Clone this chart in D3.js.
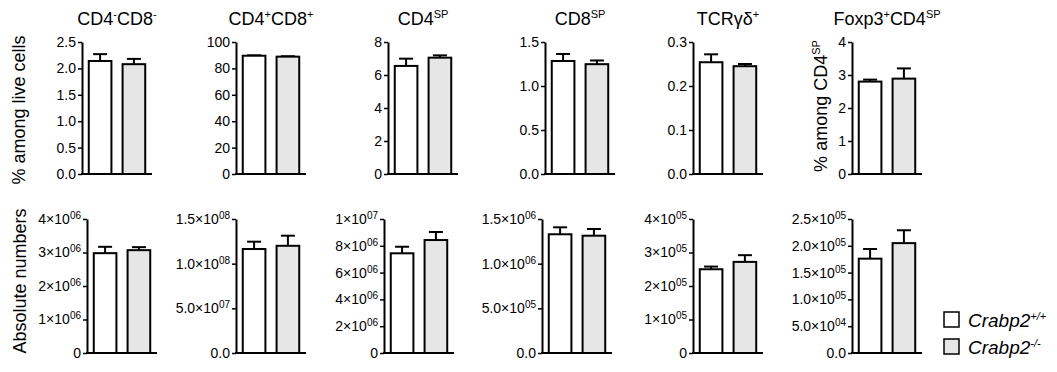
<!DOCTYPE html>
<html>
<head>
<meta charset="utf-8">
<script src="https://cdn.jsdelivr.net/npm/d3@7"></script>
<style>
  body { margin: 0; background: #fff; }
  svg { font-family: "Liberation Sans", Arial, sans-serif; }
</style>
</head>
<body>
<script>
// groups (genotypes)
var groups = ['Crabp2+/+', 'Crabp2-/-'];
var groupName = ['Crabp2', 'Crabp2'];
var groupSup = ['+/+', '-/-'];

// panel titles as [text, isSuperscript] pieces
var titles = [
  [['CD4', 0], ['-', 1], ['CD8', 0], ['-', 1]],
  [['CD4', 0], ['+', 1], ['CD8', 0], ['+', 1]],
  [['CD4', 0], ['SP', 1]],
  [['CD8', 0], ['SP', 1]],
  [['TCR\u03b3\u03b4', 0], ['+', 1]],
  [['Foxp3', 0], ['+', 1], ['CD4', 0], ['SP', 1]]
];

// top row: % among live cells (last panel: % among CD4SP)
var pctMeans = [[2.14, 2.08], [89.6, 88.9], [6.55, 7.05], [1.284, 1.248], [0.254, 0.245], [2.80, 2.89]];
var pctErrs  = [[0.13, 0.10], [0.3, 0.3], [0.44, 0.14], [0.08, 0.042], [0.018, 0.005], [0.06, 0.31]];
var pctMax   = [2.5, 100, 8, 1.5, 0.3, 4];
var pctStep  = [0.5, 20, 2, 0.5, 0.1, 1];

// bottom row: absolute numbers
var absMeans = [[2.98e6, 3.07e6], [1.164e8, 1.20e8], [7.44e6, 8.43e6], [1.329e6, 1.313e6], [2.50e5, 2.72e5], [1.76e5, 2.05e5]];
var absErrs  = [[0.19e6, 0.09e6], [0.082e8, 0.113e8], [0.49e6, 0.60e6], [0.078e6, 0.075e6], [0.08e5, 0.20e5], [0.18e5, 0.24e5]];
var absMax   = [4e6, 1.5e8, 1e7, 1.5e6, 4e5, 2.5e5];
var absStep  = [1e6, 5e7, 2e6, 5e5, 1e5, 5e4];

var W = 1057, H = 372;
var svg = d3.select('body').append('svg')
  .attr('width', W)
  .attr('height', H);

var fills = ['#ffffff', '#e6e6e6'];

// axis x positions of each panel
var topAxisX = [82, 236, 388, 545, 693, 852];
var botAxisX = [87, 236, 384, 542, 693, 852];
var plotW = 70;

function richText(textSel, parts, supSize, rise) {
  textSel.text(null);
  var up = false;
  parts.forEach(function(p) {
    var t = textSel.append('tspan').text(p[0]);
    if (p[1]) {
      t.attr('font-size', supSize);
      if (!up) { t.attr('dy', -rise); up = true; }
    } else if (up) {
      t.attr('dy', rise); up = false;
    }
  });
}

function pctLabel(step) {
  var f = d3.format(step < 1 ? '.1f' : 'd');
  return function(v) { return [[f(v), 0]]; };
}

function mantissa(v) {
  var ex = Math.floor(Math.log10(v) + 1e-9);
  return [v / Math.pow(10, ex), ex];
}

function sciLabel(ticks) {
  // one decimal when any mantissa is not a whole number
  var dec = ticks.some(function(v) {
    if (v === 0) return false;
    var m = mantissa(v)[0];
    return Math.abs(m - Math.round(m)) > 1e-6;
  }) ? 1 : 0;
  return function(v) {
    if (v === 0) return [[dec ? '0.0' : '0', 0]];
    var me = mantissa(v);
    var s = dec ? me[0].toFixed(1) : String(Math.round(me[0]));
    return [[s + '\u00d710', 0], [(me[1] < 10 ? '0' : '') + me[1], 1]];
  };
}

function drawPanel(x0, yTop, yBot, means, errs, max, step, sci) {
  var y = d3.scaleLinear().domain([0, max]).range([yBot, yTop]);
  var xb = d3.scaleBand().domain(groups)
    .range([x0, x0 + plotW])
    .paddingInner(0.33)
    .paddingOuter(0.2);

  var ticks = d3.range(0, max + step / 2, step);
  var labeler = sci ? sciLabel(ticks) : pctLabel(step);
  var g = svg.append('g');

  var axis = d3.axisLeft(y)
    .tickValues(ticks)
    .tickSize(4)
    .tickSizeOuter(0)
    .tickPadding(2)
    .tickFormat(function() { return ''; });

  var ax = g.append('g')
    .attr('transform', 'translate(' + x0 + ',0)')
    .call(axis);
  ax.select('.domain').attr('stroke-width', 2);
  ax.selectAll('.tick line').attr('stroke-width', 1.5);
  ax.selectAll('.tick text')
    .attr('font-size', 14)
    .attr('fill', '#000')
    .attr('font-family', null)
    .each(function(d) {
      richText(d3.select(this), labeler(d), 10, 5);
    });

  // baseline
  g.append('line')
    .attr('x1', x0 - 1).attr('x2', x0 + plotW)
    .attr('y1', y(0)).attr('y2', y(0))
    .attr('stroke', '#000').attr('stroke-width', 2);

  // error bars (upper only)
  groups.forEach(function(k, i) {
    var cx = xb(k) + xb.bandwidth() / 2;
    var yt = y(means[i] + errs[i]);
    g.append('line')
      .attr('x1', cx).attr('x2', cx)
      .attr('y1', y(means[i])).attr('y2', yt)
      .attr('stroke', '#000').attr('stroke-width', 2);
    g.append('line')
      .attr('x1', cx - 7).attr('x2', cx + 7)
      .attr('y1', yt).attr('y2', yt)
      .attr('stroke', '#000').attr('stroke-width', 2);
  });

  g.selectAll('rect')
    .data(means)
    .enter()
    .append('rect')
    .attr('x', function(d, i) { return xb(groups[i]); })
    .attr('y', function(d) { return y(d); })
    .attr('width', xb.bandwidth())
    .attr('height', function(d) { return y(0) - y(d); })
    .attr('fill', function(d, i) { return fills[i]; })
    .attr('stroke', '#000')
    .attr('stroke-width', 2);

  return xb;
}

titles.forEach(function(t, i) {
  var xb = drawPanel(topAxisX[i], 42, 174, pctMeans[i], pctErrs[i], pctMax[i], pctStep[i], false);
  var cx = (xb(groups[0]) + xb(groups[1]) + xb.bandwidth()) / 2;
  var tt = svg.append('text')
    .attr('x', cx)
    .attr('y', 25)
    .attr('text-anchor', 'middle')
    .attr('font-size', 18);
  richText(tt, t, 11, 7);

  drawPanel(botAxisX[i], 219, 353, absMeans[i], absErrs[i], absMax[i], absStep[i], true);
});

// y-axis titles
function yTitle(x, y, parts) {
  var t = svg.append('text')
    .attr('transform', 'translate(' + x + ',' + y + ') rotate(-90)')
    .attr('text-anchor', 'middle')
    .attr('font-size', 18);
  richText(t, parts, 11, 7);
}
yTitle(25, 110, [['% among live cells', 0]]);
yTitle(26, 281, [['Absolute numbers', 0]]);
yTitle(827, 106, [['% among CD4', 0], ['SP', 1]]);

// legend
var legend = svg.append('g');
groups.forEach(function(k, i) {
  var ly = 312 + i * 27;
  legend.append('rect')
    .attr('x', 944).attr('y', ly)
    .attr('width', 15).attr('height', 15)
    .attr('fill', fills[i])
    .attr('stroke', '#000')
    .attr('stroke-width', 1.5);
  var t = legend.append('text')
    .attr('x', 968).attr('y', ly + 15)
    .attr('font-size', 19)
    .attr('font-style', 'italic');
  richText(t, [[groupName[i], 0], [groupSup[i], 1]], 11, 7);
});
</script>
</body>
</html>
